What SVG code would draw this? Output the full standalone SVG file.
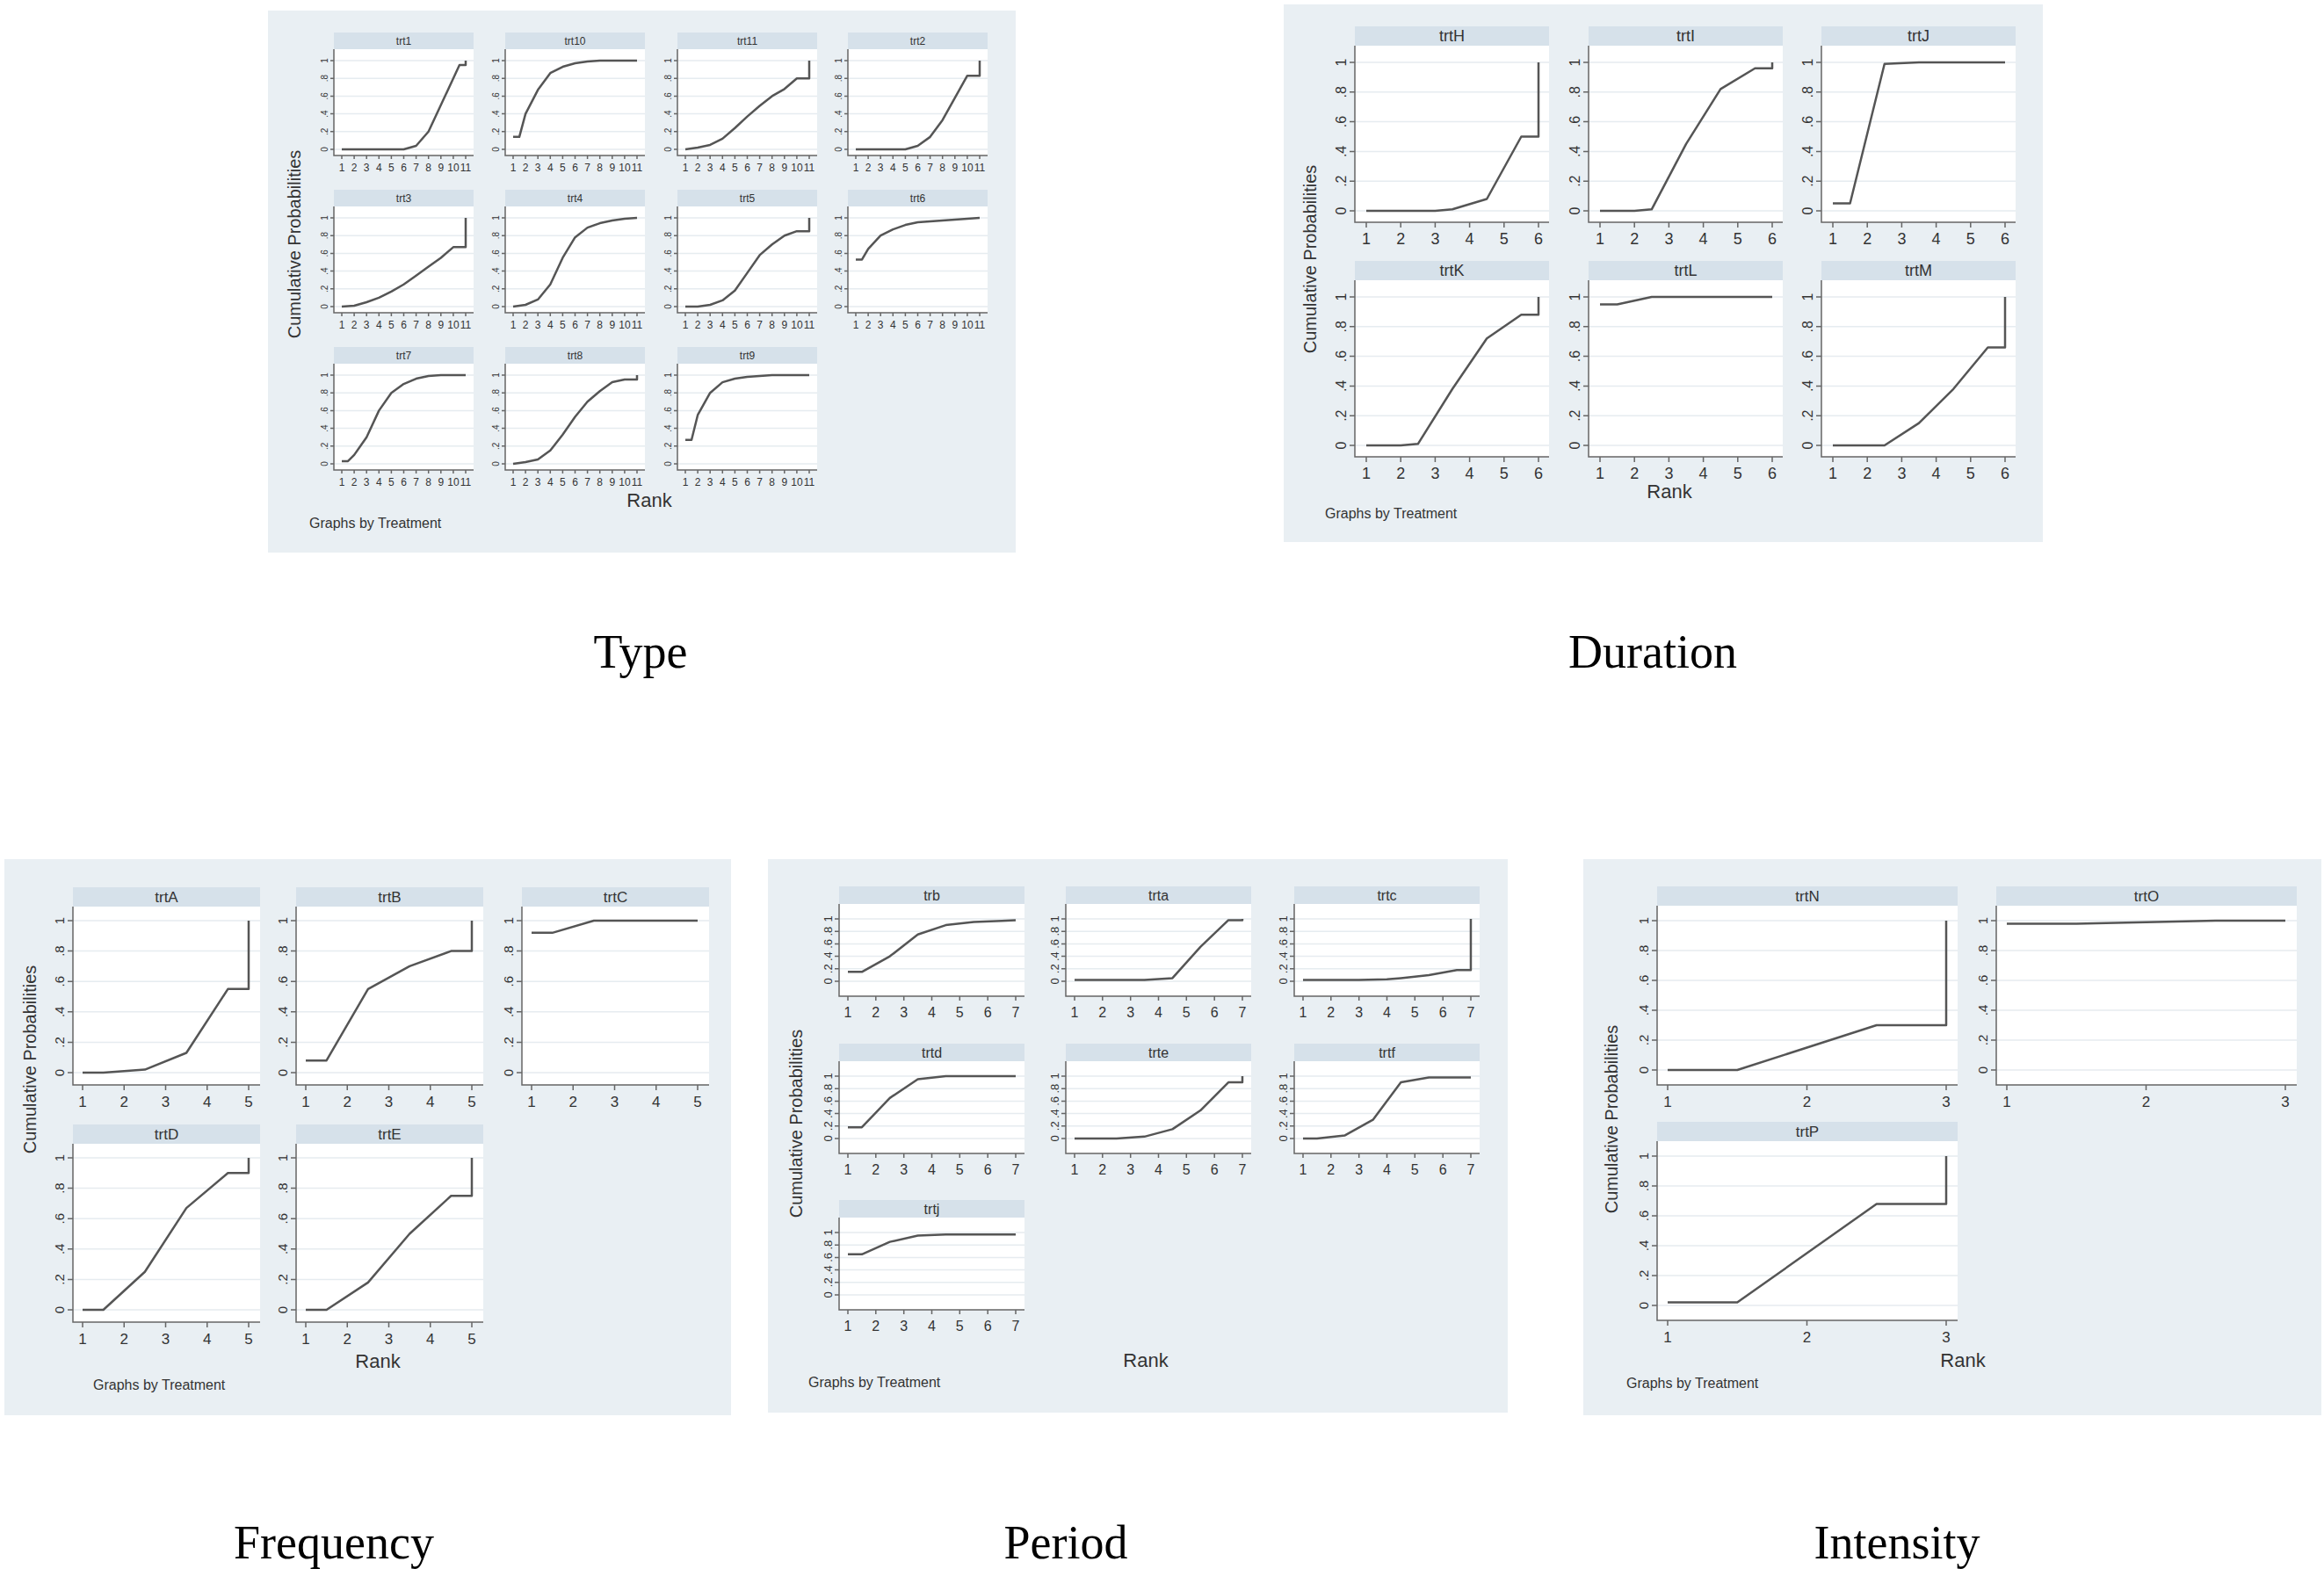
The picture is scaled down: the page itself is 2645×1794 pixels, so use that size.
<svg xmlns="http://www.w3.org/2000/svg" xmlns:xlink="http://www.w3.org/1999/xlink" width="2645" height="1794" viewBox="0 0 2645 1794">
<style>
.bg{fill:#e9eff3}
.hd{fill:#d6e1ea}
.pl{fill:#fff}
.gr{stroke:#e6ecf0;stroke-width:1.5}
.ax{stroke:#666;stroke-width:1.5;fill:none}
.t{font-family:"Liberation Sans",Arial,sans-serif;fill:#333}
.c{fill:none;stroke:#555;stroke-width:2.5;vector-effect:non-scaling-stroke;stroke-linejoin:round}
.cap{font-family:"Liberation Serif","Times New Roman",serif;font-size:54px;fill:#000;text-anchor:middle}
</style>
<defs>
<g id="fT">
<rect class="hd" x="0" y="0" width="159" height="19"/><rect class="pl" x="0" y="19" width="159" height="121"/>
<path class="gr" d="M0 133H159M0 112.8H159M0 92.6H159M0 72.4H159M0 52.2H159M0 32H159"/>
<path class="ax" d="M0 19V140H159M-4 133H0M-4 112.8H0M-4 92.6H0M-4 72.4H0M-4 52.2H0M-4 32H0M9 140v4M23.1 140v4M37.2 140v4M51.3 140v4M65.4 140v4M79.5 140v4M93.6 140v4M107.7 140v4M121.8 140v4M135.9 140v4M150 140v4"/>
<g class="t" font-size="12" text-anchor="middle"><text x="9" y="158">1</text><text x="23.1" y="158">2</text><text x="37.2" y="158">3</text><text x="51.3" y="158">4</text><text x="65.4" y="158">5</text><text x="79.5" y="158">6</text><text x="93.6" y="158">7</text><text x="107.7" y="158">8</text><text x="121.8" y="158">9</text><text x="135.9" y="158">10</text><text x="150" y="158">11</text></g>
<g class="t" font-size="10" text-anchor="middle"><text transform="translate(-7,133) rotate(-90)">0</text><text transform="translate(-7,112.8) rotate(-90)">.2</text><text transform="translate(-7,92.6) rotate(-90)">.4</text><text transform="translate(-7,72.4) rotate(-90)">.6</text><text transform="translate(-7,52.2) rotate(-90)">.8</text><text transform="translate(-7,32) rotate(-90)">1</text></g>
</g>
<g id="fD">
<rect class="hd" x="0" y="0" width="221" height="22"/><rect class="pl" x="0" y="22" width="221" height="201"/>
<path class="gr" d="M0 210H221M0 176.2H221M0 142.4H221M0 108.6H221M0 74.8H221M0 41H221"/>
<path class="ax" d="M0 22V223H221M-6 210H0M-6 176.2H0M-6 142.4H0M-6 108.6H0M-6 74.8H0M-6 41H0M13 223v6M52.2 223v6M91.4 223v6M130.6 223v6M169.8 223v6M209 223v6"/>
<g class="t" font-size="18" text-anchor="middle"><text x="13" y="248">1</text><text x="52.2" y="248">2</text><text x="91.4" y="248">3</text><text x="130.6" y="248">4</text><text x="169.8" y="248">5</text><text x="209" y="248">6</text></g>
<g class="t" font-size="16" text-anchor="middle"><text transform="translate(-10,210) rotate(-90)">0</text><text transform="translate(-10,176.2) rotate(-90)">.2</text><text transform="translate(-10,142.4) rotate(-90)">.4</text><text transform="translate(-10,108.6) rotate(-90)">.6</text><text transform="translate(-10,74.8) rotate(-90)">.8</text><text transform="translate(-10,41) rotate(-90)">1</text></g>
</g>
<g id="fF">
<rect class="hd" x="0" y="0" width="213" height="22"/><rect class="pl" x="0" y="22" width="213" height="203"/>
<path class="gr" d="M0 211H213M0 176.4H213M0 141.8H213M0 107.2H213M0 72.6H213M0 38H213"/>
<path class="ax" d="M0 22V225H213M-6 211H0M-6 176.4H0M-6 141.8H0M-6 107.2H0M-6 72.6H0M-6 38H0M11 225v6M58.25 225v6M105.5 225v6M152.75 225v6M200 225v6"/>
<g class="t" font-size="17" text-anchor="middle"><text x="11" y="250">1</text><text x="58.25" y="250">2</text><text x="105.5" y="250">3</text><text x="152.75" y="250">4</text><text x="200" y="250">5</text></g>
<g class="t" font-size="15" text-anchor="middle"><text transform="translate(-10,211) rotate(-90)">0</text><text transform="translate(-10,176.4) rotate(-90)">.2</text><text transform="translate(-10,141.8) rotate(-90)">.4</text><text transform="translate(-10,107.2) rotate(-90)">.6</text><text transform="translate(-10,72.6) rotate(-90)">.8</text><text transform="translate(-10,38) rotate(-90)">1</text></g>
</g>
<g id="fP">
<rect class="hd" x="0" y="0" width="211" height="20"/><rect class="pl" x="0" y="20" width="211" height="105"/>
<path class="gr" d="M0 108H211M0 93.8H211M0 79.6H211M0 65.4H211M0 51.2H211M0 37H211"/>
<path class="ax" d="M0 20V125H211M-5 108H0M-5 93.8H0M-5 79.6H0M-5 65.4H0M-5 51.2H0M-5 37H0M10 125v5M41.8 125v5M73.7 125v5M105.5 125v5M137.3 125v5M169.2 125v5M201 125v5"/>
<g class="t" font-size="16" text-anchor="middle"><text x="10" y="149">1</text><text x="41.8" y="149">2</text><text x="73.7" y="149">3</text><text x="105.5" y="149">4</text><text x="137.3" y="149">5</text><text x="169.2" y="149">6</text><text x="201" y="149">7</text></g>
<g class="t" font-size="13" text-anchor="middle"><text transform="translate(-8,108) rotate(-90)">0</text><text transform="translate(-8,93.8) rotate(-90)">.2</text><text transform="translate(-8,79.6) rotate(-90)">.4</text><text transform="translate(-8,65.4) rotate(-90)">.6</text><text transform="translate(-8,51.2) rotate(-90)">.8</text><text transform="translate(-8,37) rotate(-90)">1</text></g>
</g>
<g id="fI">
<rect class="hd" x="0" y="0" width="342" height="22"/><rect class="pl" x="0" y="22" width="342" height="204"/>
<path class="gr" d="M0 209H342M0 175H342M0 141H342M0 107H342M0 73H342M0 39H342"/>
<path class="ax" d="M0 22V226H342M-6 209H0M-6 175H0M-6 141H0M-6 107H0M-6 73H0M-6 39H0M12 226v6M170.5 226v6M329 226v6"/>
<g class="t" font-size="17" text-anchor="middle"><text x="12" y="251">1</text><text x="170.5" y="251">2</text><text x="329" y="251">3</text></g>
<g class="t" font-size="15" text-anchor="middle"><text transform="translate(-10,209) rotate(-90)">0</text><text transform="translate(-10,175) rotate(-90)">.2</text><text transform="translate(-10,141) rotate(-90)">.4</text><text transform="translate(-10,107) rotate(-90)">.6</text><text transform="translate(-10,73) rotate(-90)">.8</text><text transform="translate(-10,39) rotate(-90)">1</text></g>
</g>
</defs>
<rect width="2645" height="1794" fill="#fff"/>

<!-- Type -->
<g id="panel-type">
<rect class="bg" x="305" y="12" width="851" height="617"/>
<text class="t" font-size="20" text-anchor="middle" transform="translate(342,278) rotate(-90)">Cumulative Probabilities</text>
<text class="t" x="739" y="577" font-size="22" text-anchor="middle">Rank</text>
<text class="t" x="352" y="601" font-size="16">Graphs by Treatment</text>
</g>
<g id="trt1" transform="translate(380,37)"><use href="#fT"/><text class="t" x="79.5" y="14" font-size="12" text-anchor="middle">trt1</text><g transform="translate(9,133) scale(14.1,-101)"><polyline class="c" points="0,0 5,0 6,.04 7,.2 8,.5 9,.8 9.5,.95 10,.95 10,1"/></g></g>
<g id="trt10" transform="translate(575,37)"><use href="#fT"/><text class="t" x="79.5" y="14" font-size="12" text-anchor="middle">trt10</text><g transform="translate(9,133) scale(14.1,-101)"><polyline class="c" points="0,.14 .5,.14 1,.4 2,.67 3,.86 4,.93 5,.97 6,.99 7,1 10,1"/></g></g>
<g id="trt11" transform="translate(771,37)"><use href="#fT"/><text class="t" x="79.5" y="14" font-size="12" text-anchor="middle">trt11</text><g transform="translate(9,133) scale(14.1,-101)"><polyline class="c" points="0,0 1,.02 2,.05 3,.12 4,.24 5,.37 6,.49 7,.6 8,.68 9,.8 10,.8 10,1"/></g></g>
<g id="trt2" transform="translate(965,37)"><use href="#fT"/><text class="t" x="79.5" y="14" font-size="12" text-anchor="middle">trt2</text><g transform="translate(9,133) scale(14.1,-101)"><polyline class="c" points="0,0 4,0 5,.04 6,.14 7,.33 8,.58 9,.83 10,.83 10,1"/></g></g>
<g id="trt3" transform="translate(380,216)"><use href="#fT"/><text class="t" x="79.5" y="14" font-size="12" text-anchor="middle">trt3</text><g transform="translate(9,133) scale(14.1,-101)"><polyline class="c" points="0,0 1,.01 2,.05 3,.1 4,.17 5,.25 6,.35 7,.45 8,.55 9,.67 10,.67 10,1"/></g></g>
<g id="trt4" transform="translate(575,216)"><use href="#fT"/><text class="t" x="79.5" y="14" font-size="12" text-anchor="middle">trt4</text><g transform="translate(9,133) scale(14.1,-101)"><polyline class="c" points="0,0 1,.02 2,.08 3,.25 4,.55 5,.78 6,.89 7,.94 8,.97 9,.99 10,1"/></g></g>
<g id="trt5" transform="translate(771,216)"><use href="#fT"/><text class="t" x="79.5" y="14" font-size="12" text-anchor="middle">trt5</text><g transform="translate(9,133) scale(14.1,-101)"><polyline class="c" points="0,0 1,0 2,.02 3,.07 4,.18 5,.38 6,.58 7,.7 8,.8 9,.85 10,.85 10,1"/></g></g>
<g id="trt6" transform="translate(965,216)"><use href="#fT"/><text class="t" x="79.5" y="14" font-size="12" text-anchor="middle">trt6</text><g transform="translate(9,133) scale(14.1,-101)"><polyline class="c" points="0,.53 .5,.53 1,.65 2,.8 3,.87 4,.92 5,.95 6,.96 7,.97 8,.98 9,.99 10,1"/></g></g>
<g id="trt7" transform="translate(380,395)"><use href="#fT"/><text class="t" x="79.5" y="14" font-size="12" text-anchor="middle">trt7</text><g transform="translate(9,133) scale(14.1,-101)"><polyline class="c" points="0,.03 .5,.03 1,.1 2,.3 3,.6 4,.8 5,.9 6,.96 7,.99 8,1 10,1"/></g></g>
<g id="trt8" transform="translate(575,395)"><use href="#fT"/><text class="t" x="79.5" y="14" font-size="12" text-anchor="middle">trt8</text><g transform="translate(9,133) scale(14.1,-101)"><polyline class="c" points="0,0 1,.02 2,.05 3,.15 4,.33 5,.53 6,.7 7,.82 8,.92 9,.95 10,.95 10,1"/></g></g>
<g id="trt9" transform="translate(771,395)"><use href="#fT"/><text class="t" x="79.5" y="14" font-size="12" text-anchor="middle">trt9</text><g transform="translate(9,133) scale(14.1,-101)"><polyline class="c" points="0,.27 .5,.27 1,.55 2,.8 3,.92 4,.96 5,.98 6,.99 7,1 10,1"/></g></g>

<!-- Duration -->
<g id="panel-duration">
<rect class="bg" x="1461" y="5" width="864" height="612"/>
<text class="t" font-size="20" text-anchor="middle" transform="translate(1498,295) rotate(-90)">Cumulative Probabilities</text>
<text class="t" x="1900" y="567" font-size="22" text-anchor="middle">Rank</text>
<text class="t" x="1508" y="590" font-size="16">Graphs by Treatment</text>
</g>
<g id="trtH" transform="translate(1542,30)"><use href="#fD"/><text class="t" x="110.5" y="17" font-size="18" text-anchor="middle">trtH</text><g transform="translate(13,210) scale(39.2,-169)"><polyline class="c" points="0,0 2,0 2.5,.01 3.5,.08 4.5,.5 5,.5 5,1"/></g></g>
<g id="trtI" transform="translate(1808,30)"><use href="#fD"/><text class="t" x="110.5" y="17" font-size="18" text-anchor="middle">trtI</text><g transform="translate(13,210) scale(39.2,-169)"><polyline class="c" points="0,0 1,0 1.5,.01 2.5,.45 3.5,.82 4.5,.96 5,.96 5,1"/></g></g>
<g id="trtJ" transform="translate(2073,30)"><use href="#fD"/><text class="t" x="110.5" y="17" font-size="18" text-anchor="middle">trtJ</text><g transform="translate(13,210) scale(39.2,-169)"><polyline class="c" points="0,.05 .5,.05 1.5,.99 2.5,1 5,1"/></g></g>
<g id="trtK" transform="translate(1542,297)"><use href="#fD"/><text class="t" x="110.5" y="17" font-size="18" text-anchor="middle">trtK</text><g transform="translate(13,210) scale(39.2,-169)"><polyline class="c" points="0,0 1,0 1.5,.01 2.5,.38 3.5,.72 4.5,.88 5,.88 5,1"/></g></g>
<g id="trtL" transform="translate(1808,297)"><use href="#fD"/><text class="t" x="110.5" y="17" font-size="18" text-anchor="middle">trtL</text><g transform="translate(13,210) scale(39.2,-169)"><polyline class="c" points="0,.95 .5,.95 1.5,1 5,1"/></g></g>
<g id="trtM" transform="translate(2073,297)"><use href="#fD"/><text class="t" x="110.5" y="17" font-size="18" text-anchor="middle">trtM</text><g transform="translate(13,210) scale(39.2,-169)"><polyline class="c" points="0,0 1.5,0 2.5,.15 3.5,.38 4.5,.66 5,.66 5,1"/></g></g>

<!-- Frequency -->
<g id="panel-frequency">
<rect class="bg" x="5" y="978" width="827" height="633"/>
<text class="t" font-size="20" text-anchor="middle" transform="translate(41,1206) rotate(-90)">Cumulative Probabilities</text>
<text class="t" x="430" y="1557" font-size="22" text-anchor="middle">Rank</text>
<text class="t" x="106" y="1582" font-size="16">Graphs by Treatment</text>
</g>
<g id="trtA" transform="translate(83,1010)"><use href="#fF"/><text class="t" x="106.5" y="17" font-size="17" text-anchor="middle">trtA</text><g transform="translate(11,211) scale(47.25,-173)"><polyline class="c" points="0,0 .5,0 1.5,.02 2.5,.13 3.5,.55 4,.55 4,1"/></g></g>
<g id="trtB" transform="translate(337,1010)"><use href="#fF"/><text class="t" x="106.5" y="17" font-size="17" text-anchor="middle">trtB</text><g transform="translate(11,211) scale(47.25,-173)"><polyline class="c" points="0,.08 .5,.08 1.5,.55 2.5,.7 3.5,.8 4,.8 4,1"/></g></g>
<g id="trtC" transform="translate(594,1010)"><use href="#fF"/><text class="t" x="106.5" y="17" font-size="17" text-anchor="middle">trtC</text><g transform="translate(11,211) scale(47.25,-173)"><polyline class="c" points="0,.92 .5,.92 1.5,1 4,1"/></g></g>
<g id="trtD" transform="translate(83,1280)"><use href="#fF"/><text class="t" x="106.5" y="17" font-size="17" text-anchor="middle">trtD</text><g transform="translate(11,211) scale(47.25,-173)"><polyline class="c" points="0,0 .5,0 1.5,.25 2.5,.67 3.5,.9 4,.9 4,1"/></g></g>
<g id="trtE" transform="translate(337,1280)"><use href="#fF"/><text class="t" x="106.5" y="17" font-size="17" text-anchor="middle">trtE</text><g transform="translate(11,211) scale(47.25,-173)"><polyline class="c" points="0,0 .5,0 1.5,.18 2.5,.5 3.5,.75 4,.75 4,1"/></g></g>

<!-- Period -->
<g id="panel-period">
<rect class="bg" x="874" y="978" width="842" height="630"/>
<text class="t" font-size="20" text-anchor="middle" transform="translate(913,1279) rotate(-90)">Cumulative Probabilities</text>
<text class="t" x="1304" y="1556" font-size="22" text-anchor="middle">Rank</text>
<text class="t" x="920" y="1579" font-size="16">Graphs by Treatment</text>
</g>
<g id="trb" transform="translate(955,1009)"><use href="#fP"/><text class="t" x="105.5" y="16" font-size="16" text-anchor="middle">trb</text><g transform="translate(10,108) scale(31.83,-71)"><polyline class="c" points="0,.15 .5,.15 1.5,.4 2.5,.75 3.5,.9 4.5,.95 5.5,.97 6,.98"/></g></g>
<g id="trta" transform="translate(1213,1009)"><use href="#fP"/><text class="t" x="105.5" y="16" font-size="16" text-anchor="middle">trta</text><g transform="translate(10,108) scale(31.83,-71)"><polyline class="c" points="0,.02 2.5,.02 3.5,.05 4.5,.55 5.5,.98 6,.98 6,1"/></g></g>
<g id="trtc" transform="translate(1473,1009)"><use href="#fP"/><text class="t" x="105.5" y="16" font-size="16" text-anchor="middle">trtc</text><g transform="translate(10,108) scale(31.83,-71)"><polyline class="c" points="0,.02 2,.02 3,.03 3.5,.05 4.5,.1 5.5,.18 6,.18 6,1"/></g></g>
<g id="trtd" transform="translate(955,1188)"><use href="#fP"/><text class="t" x="105.5" y="16" font-size="16" text-anchor="middle">trtd</text><g transform="translate(10,108) scale(31.83,-71)"><polyline class="c" points="0,.18 .5,.18 1.5,.65 2.5,.95 3.5,1 6,1"/></g></g>
<g id="trte" transform="translate(1213,1188)"><use href="#fP"/><text class="t" x="105.5" y="16" font-size="16" text-anchor="middle">trte</text><g transform="translate(10,108) scale(31.83,-71)"><polyline class="c" points="0,0 1.5,0 2.5,.03 3.5,.15 4.5,.45 5.5,.9 6,.9 6,1"/></g></g>
<g id="trtf" transform="translate(1473,1188)"><use href="#fP"/><text class="t" x="105.5" y="16" font-size="16" text-anchor="middle">trtf</text><g transform="translate(10,108) scale(31.83,-71)"><polyline class="c" points="0,0 .5,0 1.5,.05 2.5,.3 3.5,.9 4.5,.98 6,.98"/></g></g>
<g id="trtj" transform="translate(955,1366)"><use href="#fP"/><text class="t" x="105.5" y="16" font-size="16" text-anchor="middle">trtj</text><g transform="translate(10,108) scale(31.83,-71)"><polyline class="c" points="0,.65 .5,.65 1.5,.85 2.5,.95 3.5,.97 6,.97"/></g></g>

<!-- Intensity -->
<g id="panel-intensity">
<rect class="bg" x="1802" y="978" width="840" height="633"/>
<text class="t" font-size="20" text-anchor="middle" transform="translate(1841,1274) rotate(-90)">Cumulative Probabilities</text>
<text class="t" x="2234" y="1556" font-size="22" text-anchor="middle">Rank</text>
<text class="t" x="1851" y="1580" font-size="16">Graphs by Treatment</text>
</g>
<g id="trtN" transform="translate(1886,1009)"><use href="#fI"/><text class="t" x="171" y="17" font-size="17" text-anchor="middle">trtN</text><g transform="translate(12,209) scale(158.5,-170)"><polyline class="c" points="0,0 .5,0 1.5,.3 2,.3 2,1"/></g></g>
<g id="trtO" transform="translate(2272,1009)"><use href="#fI"/><text class="t" x="171" y="17" font-size="17" text-anchor="middle">trtO</text><g transform="translate(12,209) scale(158.5,-170)"><polyline class="c" points="0,.98 .5,.98 1.5,1 2,1"/></g></g>
<g id="trtP" transform="translate(1886,1277)"><use href="#fI"/><text class="t" x="171" y="17" font-size="17" text-anchor="middle">trtP</text><g transform="translate(12,209) scale(158.5,-170)"><polyline class="c" points="0,.02 .5,.02 1.5,.68 2,.68 2,1"/></g></g>

<g id="captions">
<text class="cap" x="729" y="760">Type</text>
<text class="cap" x="1881" y="760">Duration</text>
<text class="cap" x="380" y="1774">Frequency</text>
<text class="cap" x="1213" y="1774">Period</text>
<text class="cap" x="2159" y="1774">Intensity</text>
</g>
<g id="connectors"/>
</svg>
